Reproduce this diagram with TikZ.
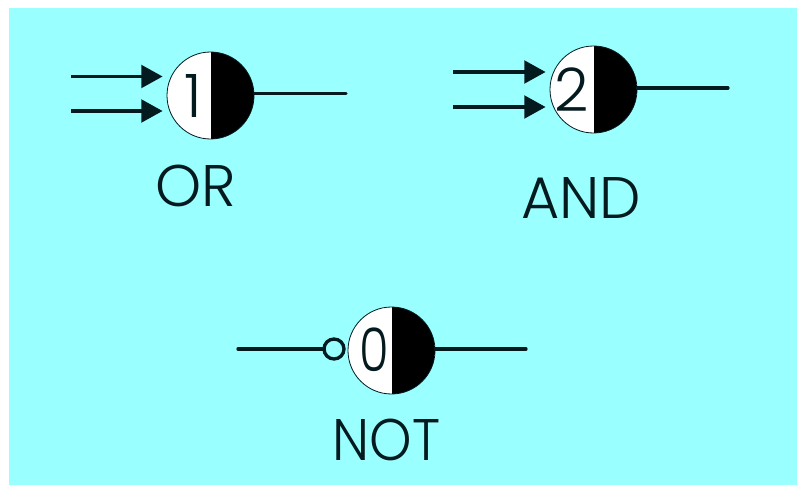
\documentclass[tikz,border=0pt]{standalone}
\usepackage{fontspec}
\setmainfont[UprightFont=* Light]{Poppins}
\usetikzlibrary{arrows.meta}
\definecolor{bgcyan}{HTML}{99FFFF}
\definecolor{ink}{HTML}{031A1F}
\tikzset{
  x=0.75pt,y=-0.75pt,
  gate/.style={circle,draw=ink,line width=0.6pt,fill=white,inner sep=0pt,minimum size=65.25pt,
    path picture={\fill[black] (path picture bounding box.north) rectangle (path picture bounding box.south east);}},
  wire/.style={draw=ink,line width=2.5pt,line cap=round},
  inarrow/.style={wire,line cap=butt,shorten >=3pt,-{Triangle[length=16pt,width=17pt]}},
  digit/.style={text=ink,font=\fontsize{45pt}{45pt}\selectfont,inner sep=0pt,anchor=center},
  caption/.style={text=ink,font=\fontsize{44pt}{44pt}\selectfont,inner sep=0pt,anchor=center},
  invert/.style={circle,draw=ink,line width=2.5pt,fill=bgcyan,inner sep=0pt,minimum size=15pt}
}
\begin{document}
\begin{tikzpicture}
\useasboundingbox (0,0) rectangle (797,485);
\fill[bgcyan] (9,8) rectangle (797,485);
% OR
\node[gate] (orc) at (210.5,95.5) {};
\node[digit] (ord) at (193,96) {1};
\node[caption] (orl) at (196,186) {OR};
\coordinate (ori1) at (71,76.5);
\coordinate (ori2) at (71,111);
\coordinate (oro) at (346,93.5);
\draw[inarrow] (ori1) -- (ori1 -| orc.west);
\draw[inarrow] (ori2) -- (ori2 -| orc.west);
\draw[wire] (orc.east |- oro) -- (oro);
% AND
\node[gate] (andc) at (593.5,89.5) {};
\node[digit] (andd) at (572,90) {2};
\node[caption] (andl) at (581,198) {AND};
\coordinate (andi1) at (453,72);
\coordinate (andi2) at (453,107);
\coordinate (ando) at (728,88);
\draw[inarrow] (andi1) -- (andi1 -| andc.west);
\draw[inarrow] (andi2) -- (andi2 -| andc.west);
\draw[wire] (andc.east |- ando) -- (ando);
% NOT
\node[gate] (notc) at (391.5,350.5) {};
\node[digit,xscale=0.8] (notd) at (374.5,350) {0};
\node[caption,xscale=0.92] (notl) at (386.5,440) {NOT};
\node[invert] (notb) at (334,349) {};
\coordinate (noti) at (238,349);
\coordinate (noto) at (526,349);
\draw[wire] (noti) -- (notb.west);
\draw[wire] (notc.east |- noto) -- (noto);
\end{tikzpicture}
\end{document}
